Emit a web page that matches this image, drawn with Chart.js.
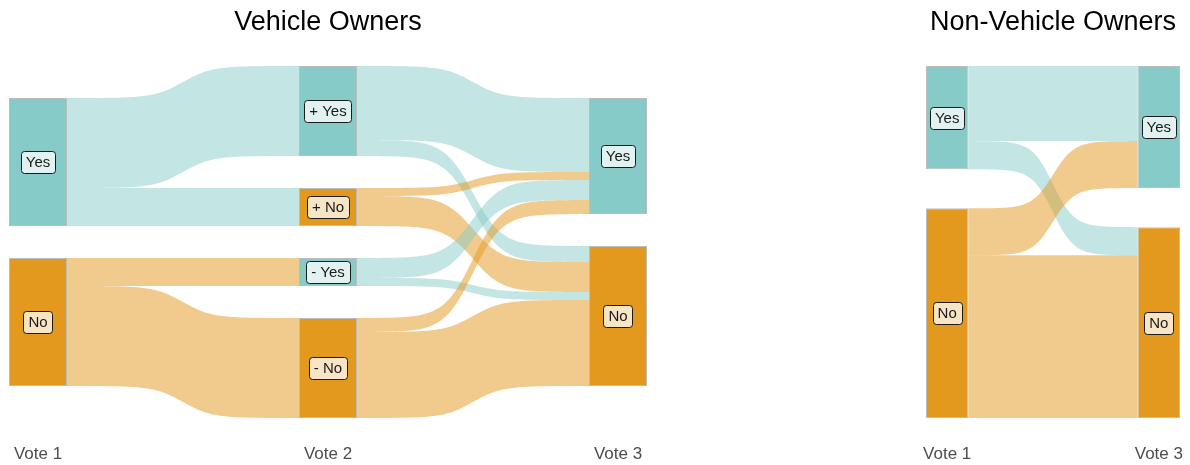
<!DOCTYPE html>
<html>
<head>
<meta charset="utf-8">
<script src="https://cdn.jsdelivr.net/npm/chart.js@4.4.1/dist/chart.umd.min.js"></script>
<style>
  body { margin: 0; background: #fff; width: 1190px; height: 465px; overflow: hidden; position: relative; }
  canvas { position: absolute; top: 0; }
  #owners { left: 0; }
  #nonOwners { left: 900px; }
</style>
</head>
<body>
<canvas id="owners" width="660" height="465"></canvas>
<canvas id="nonOwners" width="290" height="465"></canvas>
<script>
// ---- vehicle owners ----
const ownerStages = ['Vote 1', 'Vote 2', 'Vote 3'];
const ownerNodes = [
  ['Yes', 'No'],
  ['+ Yes', '+ No', '- Yes', '- No'],
  ['Yes', 'No']
];
// [from, to, respondents]
const ownerFlows12 = [
  ['Yes', '+ Yes', 45], ['Yes', '+ No', 19],
  ['No', '- Yes', 14],  ['No', '- No', 50]
];
const ownerFlows23 = [
  ['+ Yes', 'Yes', 37], ['+ Yes', 'No', 8],
  ['+ No', 'Yes', 4],   ['+ No', 'No', 15],
  ['- Yes', 'Yes', 10], ['- Yes', 'No', 4],
  ['- No', 'Yes', 7],   ['- No', 'No', 43]
];

// ---- non-vehicle owners ----
const nonOwnerStages = ['Vote 1', 'Vote 3'];
const nonOwnerNodes = [
  ['Yes', 'No'],
  ['Yes', 'No']
];
const nonOwnerFlows13 = [
  ['Yes', 'Yes', 24], ['Yes', 'No', 9],
  ['No', 'Yes', 15],  ['No', 'No', 52]
];

const NODE_WIDTH = 0.2;   // in x units (stage spacing = 1)
const GAP_RATIO  = 0.125; // space between nodes, share of column total
const SMOOTH     = 8;     // logistic steepness of the flows
const FONT       = '"Liberation Sans", Arial, sans-serif';

const C = {
  yes     : 'rgb(135,203,200)',
  yesFlow : 'rgba(135,203,200,0.5)',
  no      : 'rgb(227,152,30)',
  noFlow  : 'rgba(227,152,30,0.5)',
  border  : '#bdbdbd',
  tick    : '#4d4d4d'
};

const isYes = name => name.indexOf('Yes') !== -1;

function layoutSankey(nodes, steps) {
  const out = nodes.map(col => col.map(() => 0));
  const inn = nodes.map(col => col.map(() => 0));
  steps.forEach((flows, s) => flows.forEach(([from, to, v]) => {
    out[s][nodes[s].indexOf(from)] += v;
    inn[s + 1][nodes[s + 1].indexOf(to)] += v;
  }));
  const value = nodes.map((col, s) => col.map((_, i) => Math.max(out[s][i], inn[s][i])));
  const totals = value.map(col => col.reduce((a, b) => a + b, 0));
  const gap = Math.max(...totals) * GAP_RATIO;
  const spans = value.map((col, s) => totals[s] + (col.length - 1) * gap);
  const span = Math.max(...spans);

  // stack each column, centred vertically
  const pos = value.map((col, s) => {
    let y = (span - spans[s]) / 2;
    return col.map(v => {
      const p = { y0: y, y1: y + v, outCur: y, inCur: y };
      y += v + gap;
      return p;
    });
  });

  const list = [];
  nodes.forEach((col, s) => col.forEach((name, i) => {
    list.push({ stage: s, name, y0: pos[s][i].y0, y1: pos[s][i].y1, color: isYes(name) ? C.yes : C.no });
  }));

  const bands = [];
  steps.forEach((flows, s) => flows.forEach(([from, to, v]) => {
    const a = pos[s][nodes[s].indexOf(from)];
    const b = pos[s + 1][nodes[s + 1].indexOf(to)];
    bands.push({ step: s, a0: a.outCur, a1: a.outCur + v, b0: b.inCur, b1: b.inCur + v,
                 color: isYes(from) ? C.yesFlow : C.noFlow });
    a.outCur += v;
    b.inCur += v;
  }));

  return { nodes: list, bands, span };
}

const sankeyPlugin = L => ({
  id: 'sankeyFlows',
  beforeDatasetsDraw(chart) {
    const { ctx, scales: { x, y } } = chart;
    const n = 100;
    const f0 = 1 / (1 + Math.exp(SMOOTH)), f1 = 1 / (1 + Math.exp(-SMOOTH));
    ctx.save();
    L.bands.forEach(b => {
      const xa = b.step + 1 + NODE_WIDTH / 2;
      const xb = b.step + 2 - NODE_WIDTH / 2;
      const top = [], bot = [];
      for (let i = 0; i <= n; i++) {
        const t = -SMOOTH + 2 * SMOOTH * i / n;
        const f = (1 / (1 + Math.exp(-t)) - f0) / (f1 - f0);
        const px = x.getPixelForValue(xa + (xb - xa) * i / n);
        top.push([px, y.getPixelForValue(b.a0 + (b.b0 - b.a0) * f)]);
        bot.push([px, y.getPixelForValue(b.a1 + (b.b1 - b.a1) * f)]);
      }
      ctx.beginPath();
      top.forEach(([px, py], i) => i ? ctx.lineTo(px, py) : ctx.moveTo(px, py));
      for (let i = bot.length - 1; i >= 0; i--) ctx.lineTo(bot[i][0], bot[i][1]);
      ctx.closePath();
      ctx.fillStyle = b.color;
      ctx.fill();
    });
    ctx.restore();
  },
  afterDatasetsDraw(chart) {
    const { ctx, scales: { x, y } } = chart;
    ctx.save();
    ctx.font = '15px ' + FONT;
    ctx.textAlign = 'center';
    ctx.textBaseline = 'middle';
    L.nodes.forEach(nd => {
      const cx = x.getPixelForValue(nd.stage + 1);
      const cy = y.getPixelForValue((nd.y0 + nd.y1) / 2);
      const w = ctx.measureText(nd.name).width + 10;
      const h = 22;
      ctx.beginPath();
      ctx.roundRect(Math.round(cx - w / 2) + 0.5, Math.round(cy - h / 2) + 0.5, Math.round(w), h, 3);
      ctx.fillStyle = 'rgba(255,255,255,0.75)';
      ctx.fill();
      ctx.lineWidth = 1;
      ctx.strokeStyle = '#1a1a1a';
      ctx.stroke();
      ctx.fillStyle = '#1a1a1a';
      ctx.fillText(nd.name, cx, cy + 1);
    });
    ctx.restore();
  }
});

function makeChart(canvasId, title, stages, nodes, steps, pad) {
  const L = layoutSankey(nodes, steps);
  return new Chart(document.getElementById(canvasId), {
    type: 'bar',
    data: {
      datasets: [{
        data           : L.nodes.map(nd => ({ x: nd.stage + 1, y: [nd.y0, nd.y1] })),
        backgroundColor: L.nodes.map(nd => nd.color),
        borderColor    : C.border,
        borderWidth    : 1,
        borderSkipped  : false,
        barPercentage  : NODE_WIDTH,
        categoryPercentage: 1,
        grouped        : false
      }]
    },
    options: {
      responsive: false,
      animation : false,
      events    : [],
      layout    : { padding: pad },
      plugins: {
        legend : { display: false },
        tooltip: { enabled: false },
        title  : {
          display: true,
          text   : title,
          color  : '#000',
          font   : { family: FONT, size: 27, weight: 'normal' },
          padding: { top: 6, bottom: 27.6 }
        }
      },
      scales: {
        x: {
          type  : 'linear',
          min   : 1 - NODE_WIDTH / 2,
          max   : stages.length + NODE_WIDTH / 2,
          offset: false,
          grid  : { display: false, drawTicks: false },
          border: { display: false },
          afterBuildTicks: sc => { sc.ticks = stages.map((_, i) => ({ value: i + 1 })); },
          // fixed axis band: plot runs from 66px to 418px
          afterFit: sc => { sc.height = 47; sc.paddingLeft = 0; sc.paddingRight = 0; },
          ticks : {
            callback: v => stages[v - 1],
            color   : C.tick,
            font    : { family: FONT, size: 17 },
            padding : 26,
            maxRotation: 0
          }
        },
        y: { display: false, min: 0, max: L.span, reverse: true }
      }
    },
    plugins: [sankeyPlugin(L)]
  });
}

makeChart('owners', 'Vehicle Owners', ownerStages, ownerNodes,
  [ownerFlows12, ownerFlows23], { left: 9, right: 13, top: 0, bottom: 0 });
makeChart('nonOwners', 'Non-Vehicle Owners', nonOwnerStages, nonOwnerNodes,
  [nonOwnerFlows13], { left: 26, right: 10, top: 0, bottom: 0 });
</script>
</body>
</html>
